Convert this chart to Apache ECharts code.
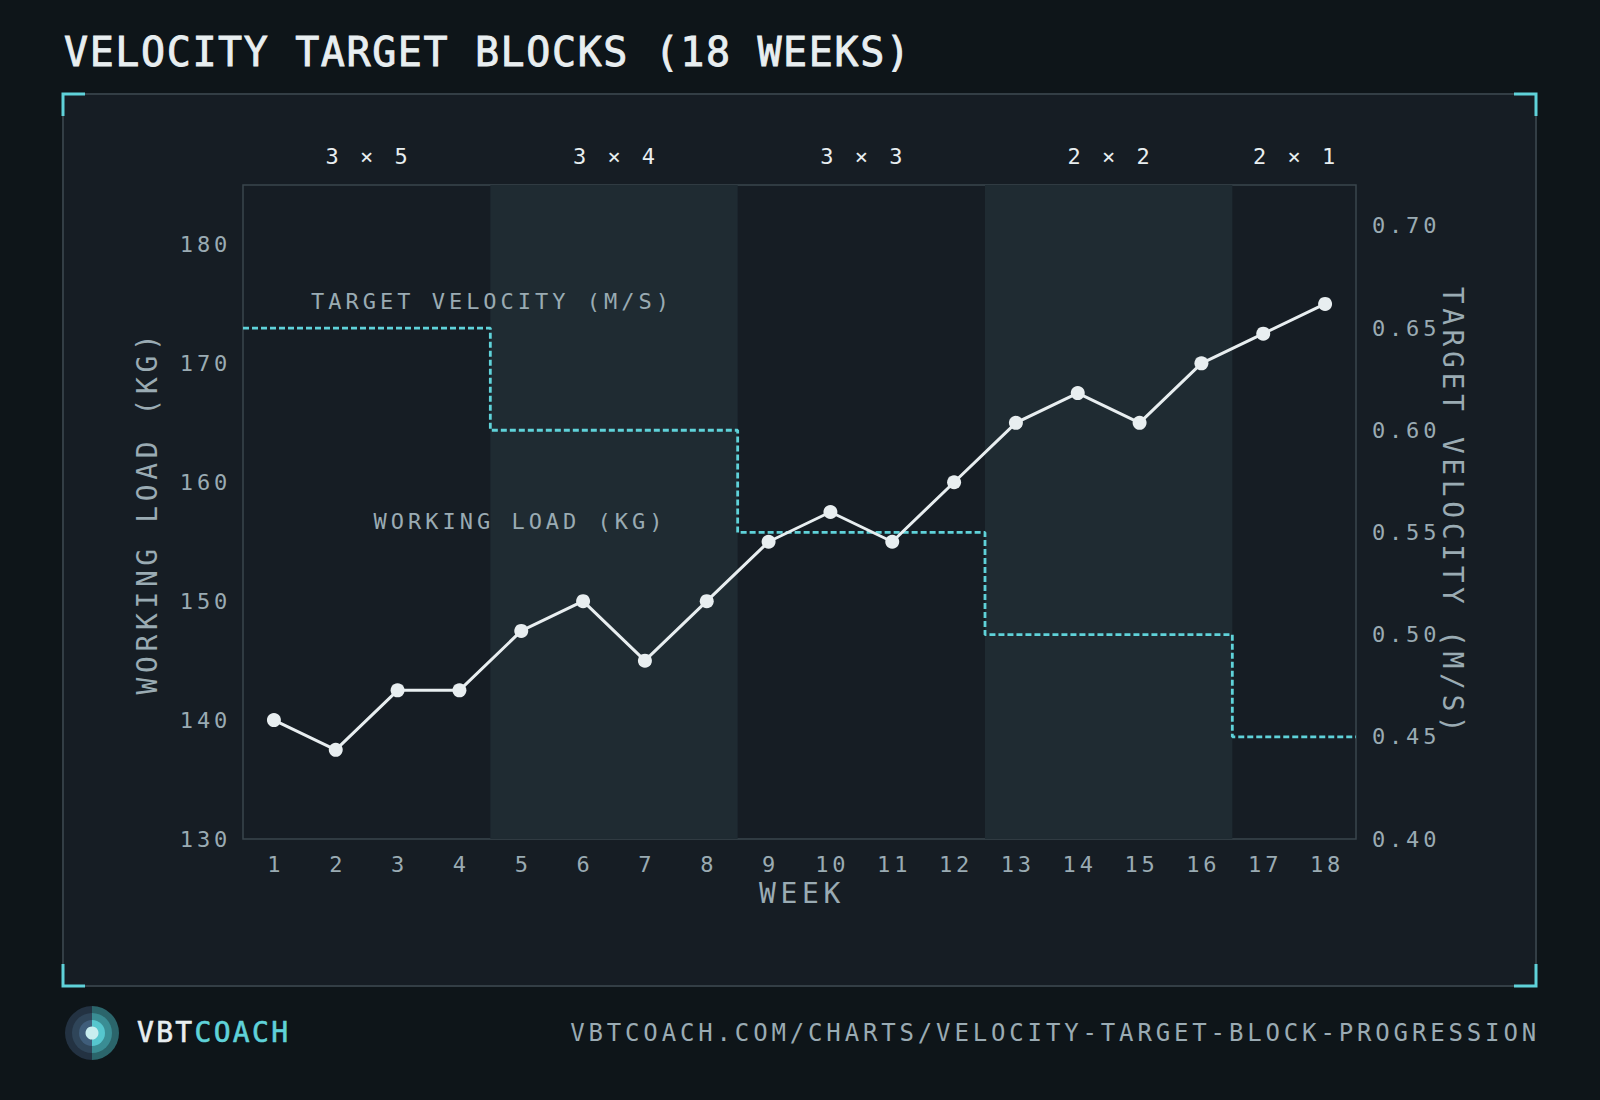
<!DOCTYPE html>
<html>
<head>
<meta charset="utf-8">
<script src="https://cdn.jsdelivr.net/npm/echarts@6/dist/echarts.min.js"></script>
<style>
html,body{margin:0;padding:0;background:#0e1519;}
#c{width:1600px;height:1100px;}
</style>
</head>
<body>
<div id="c"></div>
<script>
// ---------- DATA ----------
const weeks = ['1','2','3','4','5','6','7','8','9','10','11','12','13','14','15','16','17','18'];
const workingLoad = [140, 137.5, 142.5, 142.5, 147.5, 150, 145, 150, 155, 157.5, 155, 160, 165, 167.5, 165, 170, 172.5, 175];
const blockLabels = ['3 × 5', '3 × 4', '3 × 3', '2 × 2', '2 × 1'];
const blockStartWeek = [1, 5, 9, 13, 17];
const blockEndWeek = [4, 8, 12, 16, 18];
const blockTargetVelocity = [0.65, 0.60, 0.55, 0.50, 0.45];
const loadTicks = [130, 140, 150, 160, 170, 180];
const velocityTicks = [0.40, 0.45, 0.50, 0.55, 0.60, 0.65, 0.70];

const titleText = 'VELOCITY TARGET BLOCKS (18 WEEKS)';
const loadAxisName = 'WORKING LOAD (KG)';
const velocityAxisName = 'TARGET VELOCITY (M/S)';
const weekAxisName = 'WEEK';
const urlText = 'VBTCOACH.COM/CHARTS/VELOCITY-TARGET-BLOCK-PROGRESSION';

// ---------- STYLE ----------
const FONT = "'DejaVu Sans Mono', monospace";
const C_TEXT = '#e8eef0';
const C_MUTED = '#9aabb3';
const C_CYAN = '#5fd2d9';
const C_BAND = '#1f2b32';

// derived series
const velocitySteps = [];
blockStartWeek.forEach((s, i) => {
  velocitySteps.push([s - 0.5, blockTargetVelocity[i]]);
  velocitySteps.push([blockEndWeek[i] + 0.5, blockTargetVelocity[i]]);
});
const bandAreas = blockLabels.map((lab, i) => [
  { name: lab, xAxis: blockStartWeek[i] - 0.5,
    itemStyle: { color: i % 2 ? C_BAND : 'rgba(0,0,0,0)' } },
  { xAxis: blockEndWeek[i] + 0.5 }
]);

const chart = echarts.init(document.getElementById('c'), null, { renderer: 'svg', width: 1600, height: 1100 });

function txt(o) {
  return Object.assign({ type: 'text' }, o);
}

const option = {
  animation: false,
  backgroundColor: '#0e1519',
  grid: {
    left: 243, right: 244, top: 185, bottom: 261,
    show: true, borderColor: '#3a464c', borderWidth: 1.5, backgroundColor: 'rgba(0,0,0,0)', z: 0
  },
  xAxis: [
    {
      type: 'category', data: weeks, boundaryGap: true, position: 'bottom',
      axisLine: { show: false }, axisTick: { show: false }, splitLine: { show: false },
      axisLabel: { color: C_MUTED, fontSize: 22, fontFamily: FONT, margin: 14, padding: [0, 0, 0, 3.8] },
      name: weekAxisName, nameLocation: 'middle', nameGap: 38,
      nameTextStyle: { color: C_MUTED, fontSize: 28, fontFamily: FONT, padding: [0, 0, 0, 5] }
    },
    {
      type: 'value', min: 0.5, max: 18.5, show: false
    }
  ],
  yAxis: [
    {
      type: 'value', min: loadTicks[0], max: 185, interval: loadTicks[1] - loadTicks[0], position: 'left',
      axisLine: { show: false }, axisTick: { show: false }, splitLine: { show: false },
      axisLabel: {
        color: C_MUTED, fontSize: 22, fontFamily: FONT, margin: 12, showMaxLabel: false,
        formatter: v => loadTicks.includes(Math.round(v * 1000) / 1000) ? String(v) : ''
      },
      name: loadAxisName, nameLocation: 'middle', nameGap: 82,
      nameTextStyle: { color: C_MUTED, fontSize: 28, fontFamily: FONT }
    },
    {
      type: 'value', min: velocityTicks[0], max: 0.72, interval: 0.05, position: 'right',
      axisLine: { show: false }, axisTick: { show: false }, splitLine: { show: false },
      axisLabel: {
        color: C_MUTED, fontSize: 22, fontFamily: FONT, margin: 16, showMaxLabel: false,
        formatter: v => velocityTicks.some(t => Math.abs(t - v) < 1e-6) ? v.toFixed(2) : ''
      },
      name: velocityAxisName, nameLocation: 'middle', nameGap: 82, nameRotate: -90,
      nameTextStyle: { color: C_MUTED, fontSize: 28, fontFamily: FONT }
    }
  ],
  series: [
    {
      name: 'blocks', type: 'line', xAxisIndex: 1, yAxisIndex: 1, data: [], z: 1, silent: true,
      markArea: {
        silent: true,
        label: { show: true, position: 'top', distance: 18, offset: [2, 0], color: C_TEXT, fontSize: 22, fontFamily: FONT, formatter: '{b}' },
        data: bandAreas
      }
    },
    {
      name: 'Target velocity (m/s)', type: 'line', xAxisIndex: 1, yAxisIndex: 1,
      data: velocitySteps, symbol: 'none', z: 3,
      lineStyle: { color: C_CYAN, width: 2.8, type: [6, 3] }
    },
    {
      name: 'Working load (kg)', type: 'line', xAxisIndex: 0, yAxisIndex: 0,
      data: workingLoad, symbol: 'circle', symbolSize: 14, showSymbol: true, z: 4,
      lineStyle: { color: C_TEXT, width: 3 },
      itemStyle: { color: C_TEXT, borderWidth: 0 }
    }
  ],
  graphic: [
    // panel
    { type: 'rect', z: -10, shape: { x: 63, y: 94, width: 1473, height: 892 },
      style: { fill: '#161d24', stroke: '#333e45', lineWidth: 2 } },
    // corner accents
    { type: 'polyline', z: 50, shape: { points: [[63, 116], [63, 94], [85, 94]] }, style: { stroke: C_CYAN, lineWidth: 3, fill: null } },
    { type: 'polyline', z: 50, shape: { points: [[1514, 94], [1536, 94], [1536, 116]] }, style: { stroke: C_CYAN, lineWidth: 3, fill: null } },
    { type: 'polyline', z: 50, shape: { points: [[63, 964], [63, 986], [85, 986]] }, style: { stroke: C_CYAN, lineWidth: 3, fill: null } },
    { type: 'polyline', z: 50, shape: { points: [[1514, 986], [1536, 986], [1536, 964]] }, style: { stroke: C_CYAN, lineWidth: 3, fill: null } },
    // title
    txt({ z: 50, x: 64, y: 52, style: { text: titleText, fill: C_TEXT, stroke: C_TEXT, lineWidth: 0.9, fontSize: 40, fontFamily: FONT,
      align: 'left', verticalAlign: 'middle', textAlign: 'left', textVerticalAlign: 'middle' } }),
    // in-plot series labels
    txt({ z: 50, x: 492, y: 301, style: { text: velocityAxisName, fill: C_MUTED, fontSize: 22, fontFamily: FONT,
      align: 'center', verticalAlign: 'middle', textAlign: 'center', textVerticalAlign: 'middle' } }),
    txt({ z: 50, x: 520, y: 521, style: { text: loadAxisName, fill: C_MUTED, fontSize: 22, fontFamily: FONT,
      align: 'center', verticalAlign: 'middle', textAlign: 'center', textVerticalAlign: 'middle' } }),
    // logo
    { type: 'sector', z: 50, shape: { cx: 92, cy: 1033, r: 27, r0: 0, startAngle: Math.PI / 2, endAngle: Math.PI * 1.5 }, style: { fill: '#233242' } },
    { type: 'sector', z: 50, shape: { cx: 92, cy: 1033, r: 27, r0: 0, startAngle: -Math.PI / 2, endAngle: Math.PI / 2 }, style: { fill: '#2b656b' } },
    { type: 'sector', z: 51, shape: { cx: 92, cy: 1033, r: 20, r0: 0, startAngle: Math.PI / 2, endAngle: Math.PI * 1.5 }, style: { fill: '#2f4559' } },
    { type: 'sector', z: 51, shape: { cx: 92, cy: 1033, r: 20, r0: 0, startAngle: -Math.PI / 2, endAngle: Math.PI / 2 }, style: { fill: '#3a8d94' } },
    { type: 'sector', z: 52, shape: { cx: 92, cy: 1033, r: 13, r0: 0, startAngle: Math.PI / 2, endAngle: Math.PI * 1.5 }, style: { fill: '#3f5d7a' } },
    { type: 'sector', z: 52, shape: { cx: 92, cy: 1033, r: 13, r0: 0, startAngle: -Math.PI / 2, endAngle: Math.PI / 2 }, style: { fill: '#56c6ce' } },
    { type: 'circle', z: 53, shape: { cx: 92, cy: 1033, r: 6.5 }, style: { fill: '#c8eef0' } },
    // brand
    txt({ z: 50, x: 137, y: 1032, style: { text: 'VBT', fill: C_TEXT, stroke: C_TEXT, lineWidth: 0.6, fontSize: 28, fontFamily: FONT,
      align: 'left', verticalAlign: 'middle', textAlign: 'left', textVerticalAlign: 'middle' } }),
    txt({ z: 50, x: 194.5, y: 1032, style: { text: 'COACH', fill: C_CYAN, stroke: C_CYAN, lineWidth: 0.6, fontSize: 28, fontFamily: FONT,
      align: 'left', verticalAlign: 'middle', textAlign: 'left', textVerticalAlign: 'middle' } }),
    // url
    txt({ z: 50, x: 1540, y: 1033, style: { text: urlText, fill: C_MUTED, fontSize: 24, fontFamily: FONT,
      align: 'right', verticalAlign: 'middle', textAlign: 'right', textVerticalAlign: 'middle' } })
  ]
};

chart.setOption(option);

// letter spacing (tracking) applied to the rendered SVG text
const spacingMap = {};
spacingMap[titleText] = 1.6;
spacingMap[weekAxisName] = 4.7;
spacingMap[urlText] = 3.85;
spacingMap['VBT'] = 2.3;
spacingMap['COACH'] = 2.3;
blockLabels.forEach(l => spacingMap[l] = 4);

function applySpacing() {
  document.querySelectorAll('#c svg text').forEach(t => {
    const s = t.textContent;
    let sp = null;
    const m = (t.getAttribute('style') || '').match(/(\d+(\.\d+)?)px/);
    const fs = m ? parseFloat(m[1]) : 0;
    if (s === loadAxisName || s === velocityAxisName) {
      sp = fs >= 26 ? 4.6 : 4;
    } else if (spacingMap[s] != null) {
      sp = spacingMap[s];
    } else if (/^\d+(\.\d+)?$/.test(s)) {
      sp = 3.8;
    }
    if (sp != null) {
      t.setAttribute('letter-spacing', sp);
      t.style.letterSpacing = sp + 'px';
    }
  });
}
applySpacing();
chart.on('finished', applySpacing);
setTimeout(applySpacing, 50);
</script>
</body>
</html>
